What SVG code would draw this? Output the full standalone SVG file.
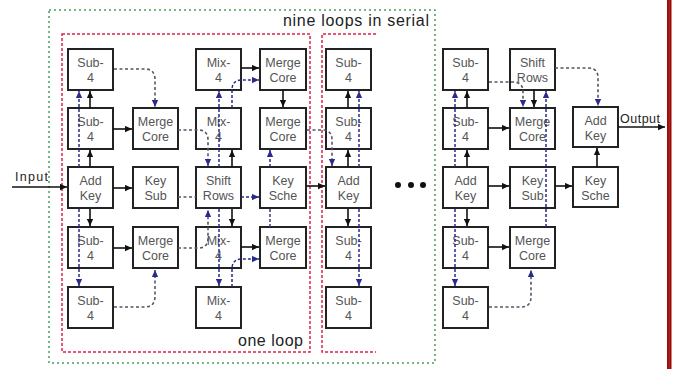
<svg xmlns="http://www.w3.org/2000/svg" width="674" height="369" viewBox="0 0 674 369">
<defs>
<marker id="ak" viewBox="0 0 10 10" refX="10" refY="5" markerWidth="8" markerHeight="7" markerUnits="userSpaceOnUse" orient="auto"><path d="M0,0.5 L10,5 L0,9.5 z" fill="#111"/></marker>
<marker id="ab" viewBox="0 0 10 10" refX="10" refY="5" markerWidth="8" markerHeight="7" markerUnits="userSpaceOnUse" orient="auto"><path d="M0,0.5 L10,5 L0,9.5 z" fill="#2a2a8c"/></marker>
</defs>
<style>
.box rect{fill:#fff;stroke:#222;stroke-width:2}
.box text{font-family:"Liberation Sans",Arial,sans-serif;font-size:12.5px;fill:#555;text-anchor:middle}
.k{fill:none;stroke:#111;stroke-width:1.6;marker-end:url(#ak)}
.b{fill:none;stroke:#2a2a8c;stroke-width:1.5;stroke-dasharray:3,2;marker-end:url(#ab)}
.bn{fill:none;stroke:#3a3a80;stroke-width:1.5;stroke-dasharray:3,2}
.c{fill:none;stroke:#556;stroke-width:1.6;stroke-dasharray:3,2.5;marker-end:url(#ab)}
.cn{fill:none;stroke:#556;stroke-width:1.6;stroke-dasharray:3,2.5}
.lbl{font-family:"Liberation Sans",Arial,sans-serif;fill:#222}
</style>
<rect width="674" height="369" fill="#fff"/>
<rect x="667" y="0" width="4.5" height="369" fill="#9b0a0a"/>
<line x1="669.2" y1="0" x2="669.2" y2="369" stroke="#b83030" stroke-width="0.8"/>
<g id="frames">
<rect x="49" y="10" width="386" height="353" fill="none" stroke="#4c9a5c" stroke-width="1.5" stroke-dasharray="2,3"/>
<rect x="62" y="34" width="248" height="318" fill="none" stroke="#e0204a" stroke-width="1.5" stroke-dasharray="3,2"/>
<path d="M376,34 H322 V352 H376" fill="none" stroke="#e0204a" stroke-width="1.5" stroke-dasharray="3,2"/>
</g>
<text class="lbl" x="283" y="26" font-size="16" textLength="146" lengthAdjust="spacing">nine loops in serial</text>
<text class="lbl" x="238" y="346" font-size="16" textLength="65" lengthAdjust="spacing">one loop</text>
<text class="lbl" x="15" y="181" font-size="12.5" textLength="33" lengthAdjust="spacing">Input</text>
<text class="lbl" x="620" y="123" font-size="12.5" textLength="40" lengthAdjust="spacing">Output</text>
<g id="ellipsis" fill="#111"><circle cx="398" cy="185" r="3"/><circle cx="411" cy="185" r="3"/><circle cx="423" cy="185" r="3"/></g>

<g id="nA1" class="box" transform="translate(68,49)"><rect width="45" height="41"/><text x="22.5" y="17.5">Sub-</text><text x="22.5" y="33">4</text></g>
<g id="nA2" class="box" transform="translate(68,108)"><rect width="45" height="41"/><text x="22.5" y="17.5">Sub-</text><text x="22.5" y="33">4</text></g>
<g id="nA3" class="box" transform="translate(68,167)"><rect width="45" height="41"/><text x="22.5" y="17.5">Add</text><text x="22.5" y="33">Key</text></g>
<g id="nA4" class="box" transform="translate(68,227)"><rect width="45" height="41"/><text x="22.5" y="17.5">Sub-</text><text x="22.5" y="33">4</text></g>
<g id="nA5" class="box" transform="translate(68,287)"><rect width="45" height="41"/><text x="22.5" y="17.5">Sub-</text><text x="22.5" y="33">4</text></g>
<g id="nB2" class="box" transform="translate(133,108)"><rect width="45" height="41"/><text x="22.5" y="17.5">Merge</text><text x="22.5" y="33">Core</text></g>
<g id="nB3" class="box" transform="translate(133,167)"><rect width="45" height="41"/><text x="22.5" y="17.5">Key</text><text x="22.5" y="33">Sub</text></g>
<g id="nB4" class="box" transform="translate(133,227)"><rect width="45" height="41"/><text x="22.5" y="17.5">Merge</text><text x="22.5" y="33">Core</text></g>
<g id="nC1" class="box" transform="translate(196,49)"><rect width="45" height="41"/><text x="22.5" y="17.5">Mix-</text><text x="22.5" y="33">4</text></g>
<g id="nC2" class="box" transform="translate(196,108)"><rect width="45" height="41"/><text x="22.5" y="17.5">Mix-</text><text x="22.5" y="33">4</text></g>
<g id="nC3" class="box" transform="translate(196,167)"><rect width="45" height="41"/><text x="22.5" y="17.5">Shift</text><text x="22.5" y="33">Rows</text></g>
<g id="nC4" class="box" transform="translate(196,227)"><rect width="45" height="41"/><text x="22.5" y="17.5">Mix-</text><text x="22.5" y="33">4</text></g>
<g id="nC5" class="box" transform="translate(196,287)"><rect width="45" height="41"/><text x="22.5" y="17.5">Mix-</text><text x="22.5" y="33">4</text></g>
<g id="nD1" class="box" transform="translate(260,49)"><rect width="46" height="41"/><text x="23" y="17.5">Merge</text><text x="23" y="33">Core</text></g>
<g id="nD2" class="box" transform="translate(260,108)"><rect width="46" height="41"/><text x="23" y="17.5">Merge</text><text x="23" y="33">Core</text></g>
<g id="nD3" class="box" transform="translate(260,167)"><rect width="46" height="41"/><text x="23" y="17.5">Key</text><text x="23" y="33">Sche</text></g>
<g id="nD4" class="box" transform="translate(260,227)"><rect width="46" height="41"/><text x="23" y="17.5">Merge</text><text x="23" y="33">Core</text></g>
<g id="nL1" class="box" transform="translate(326,49)"><rect width="45" height="41"/><text x="22.5" y="17.5">Sub-</text><text x="22.5" y="33">4</text></g>
<g id="nL2" class="box" transform="translate(326,108)"><rect width="45" height="41"/><text x="22.5" y="17.5">Sub-</text><text x="22.5" y="33">4</text></g>
<g id="nL3" class="box" transform="translate(326,167)"><rect width="45" height="41"/><text x="22.5" y="17.5">Add</text><text x="22.5" y="33">Key</text></g>
<g id="nL4" class="box" transform="translate(326,227)"><rect width="45" height="41"/><text x="22.5" y="17.5">Sub-</text><text x="22.5" y="33">4</text></g>
<g id="nL5" class="box" transform="translate(326,287)"><rect width="45" height="41"/><text x="22.5" y="17.5">Sub-</text><text x="22.5" y="33">4</text></g>
<g id="nE1" class="box" transform="translate(443,49)"><rect width="45" height="41"/><text x="22.5" y="17.5">Sub-</text><text x="22.5" y="33">4</text></g>
<g id="nE2" class="box" transform="translate(443,108)"><rect width="45" height="41"/><text x="22.5" y="17.5">Sub-</text><text x="22.5" y="33">4</text></g>
<g id="nE3" class="box" transform="translate(443,167)"><rect width="45" height="41"/><text x="22.5" y="17.5">Add</text><text x="22.5" y="33">Key</text></g>
<g id="nE4" class="box" transform="translate(443,227)"><rect width="45" height="41"/><text x="22.5" y="17.5">Sub-</text><text x="22.5" y="33">4</text></g>
<g id="nE5" class="box" transform="translate(443,287)"><rect width="45" height="41"/><text x="22.5" y="17.5">Sub-</text><text x="22.5" y="33">4</text></g>
<g id="nF1" class="box" transform="translate(510,49)"><rect width="45" height="41"/><text x="22.5" y="17.5">Shift</text><text x="22.5" y="33">Rows</text></g>
<g id="nF2" class="box" transform="translate(510,108)"><rect width="45" height="41"/><text x="22.5" y="17.5">Merge</text><text x="22.5" y="33">Core</text></g>
<g id="nF3" class="box" transform="translate(510,167)"><rect width="45" height="41"/><text x="22.5" y="17.5">Key</text><text x="22.5" y="33">Sub</text></g>
<g id="nF4" class="box" transform="translate(510,227)"><rect width="45" height="41"/><text x="22.5" y="17.5">Merge</text><text x="22.5" y="33">Core</text></g>
<g id="nG2" class="box" transform="translate(573,107)"><rect width="45" height="40"/><text x="22.5" y="17.5">Add</text><text x="22.5" y="33">Key</text></g>
<g id="nG3" class="box" transform="translate(573,167)"><rect width="45" height="40"/><text x="22.5" y="17.5">Key</text><text x="22.5" y="33">Sche</text></g>

<g id="connectors">
<path class="k" d="M12,187 H67" stroke-width="2.2"/>
<path class="k" d="M90,167 V150"/>
<path class="k" d="M90,108 V91"/>
<path class="k" d="M90,209 V226"/>
<path class="k" d="M113,129 H132"/>
<path class="k" d="M113,188 H132"/>
<path class="k" d="M113,248 H132"/>
<path class="k" d="M232,167 V150"/>
<path class="k" d="M232,209 V226"/>
<path class="k" d="M241,68 H259"/>
<path class="k" d="M241,247 H259"/>
<path class="k" d="M283,90 V107"/>
<path class="k" d="M306,186 H325"/>
<path class="k" d="M348,167 V150"/>
<path class="k" d="M348,108 V91"/>
<path class="k" d="M348,209 V226"/>
<path class="k" d="M467,167 V150"/>
<path class="k" d="M467,108 V91"/>
<path class="k" d="M467,209 V226"/>
<path class="k" d="M488,128 H509"/>
<path class="k" d="M488,186 H509"/>
<path class="k" d="M555,186 H572"/>
<path class="k" d="M597,167 V148"/>
<path class="k" d="M618,127 H665"/>
<path class="k" d="M534,90 V107"/>
<path class="k" d="M488,247 H509"/>

<path class="b" d="M79,167 V91"/>
<path class="b" d="M79,209 V286"/>
<path class="b" d="M219,167 V91"/>
<path class="b" d="M219,209 V286"/>
<path class="b" d="M241,197 H259"/>
<path class="b" d="M270,167 V150"/>
<path class="bn" d="M270,209 V227"/>
<path class="b" d="M359,167 V91"/>
<path class="b" d="M359,209 V286"/>
<path class="b" d="M455,167 V91"/>
<path class="b" d="M455,209 V286"/>
<path class="b" d="M546,227 V91"/>
<path class="cn" d="M178,197 H196"/>

<path class="c" d="M114,69 H145 Q155,69 155,80 V107"/>
<path class="c" d="M114,307 H145 Q155,307 155,296 V270"/>
<path class="c" d="M178,130 H198 Q208,130 208,140 V166"/>
<path class="c" d="M178,248 H198 Q208,248 208,238 V210"/>
<path class="b" d="M232,108 V90 Q232,80 242,80 H259"/>
<path class="b" d="M232,287 V269 Q232,259 242,259 H259"/>
<path class="c" d="M307,130 H322 Q332,130 332,140 V166"/>
<path class="c" d="M489,82 H513 Q523,82 523,92 V107"/>
<path class="c" d="M555,68 H588 Q598,68 598,78 V106"/>
<path class="c" d="M489,307 H521 Q531,307 531,297 V270"/>
</g>
</svg>
